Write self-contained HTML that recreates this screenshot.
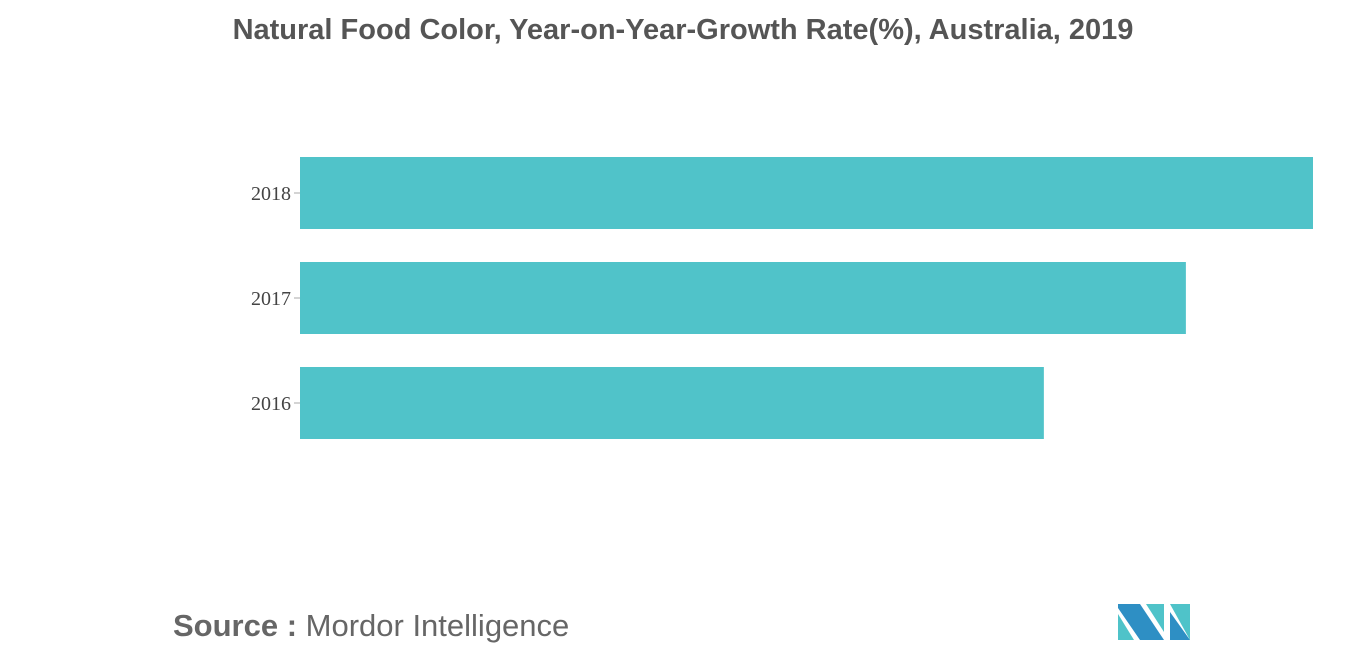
<!DOCTYPE html>
<html><head><meta charset="utf-8"><style>
body{margin:0;width:1366px;height:655px;background:#fff;font-family:"Liberation Sans",sans-serif;position:relative;overflow:hidden}
#title{position:absolute;top:14px;left:0;width:1366px;text-align:center;font-size:29px;font-weight:bold;color:#555}
#src{position:absolute;left:173px;top:608px;font-size:31px;color:#666}
</style></head><body>
<div id="title">Natural Food Color, Year-on-Year-Growth Rate(%), Australia, 2019</div>
<svg id="chart" width="1366" height="655" style="position:absolute;left:0;top:0"></svg>
<div id="src"><b>Source :</b> Mordor Intelligence</div>
<svg style="position:absolute;left:1118px;top:604px" width="74" height="38" viewBox="0 0 74 38">
<polygon points="0,0 22,0 46,36 22,36 0,4" fill="#2e8fc4"/>
<polygon points="0,10 16,36 0,36" fill="#4fc3c9"/>
<polygon points="28,0 46,0 46,28" fill="#4fc3c9"/>
<polygon points="52,0 72,0 72,36" fill="#4fc3c9"/>
<polygon points="52,8 72,36 52,36" fill="#2e8fc4"/>
</svg>
<script>
const categories=["2018","2017","2016"];
const values=[10.2,8.92,7.49];
const xMax=10.2;
const svg=document.getElementById('chart');
const NS='http://www.w3.org/2000/svg';
const x0=300,x1=1313,top0=157,band=105,barH=72;
const xs=v=>x0+(v/xMax)*(x1-x0);
categories.forEach((c,i)=>{
  const y=top0+i*band;
  const r=document.createElementNS(NS,'rect');
  r.setAttribute('x',x0);r.setAttribute('y',y);r.setAttribute('width',xs(values[i])-x0);r.setAttribute('height',barH);r.setAttribute('fill','#50c3c9');
  
  
  svg.appendChild(r);
  const tk=document.createElementNS(NS,'line');
  tk.setAttribute('x1',294);tk.setAttribute('x2',300);tk.setAttribute('y1',y+barH/2);tk.setAttribute('y2',y+barH/2);tk.setAttribute('stroke','#aaa');
  
  
  svg.appendChild(tk);
  const t=document.createElementNS(NS,'text');
  t.setAttribute('x',291);t.setAttribute('y',y+barH/2+7);t.setAttribute('text-anchor','end');t.setAttribute('font-size','20');t.setAttribute('fill','#444');t.setAttribute('font-family','Liberation Serif, serif');
  t.textContent=c;
  
  
  svg.appendChild(t);
});
</script>
</body></html>
